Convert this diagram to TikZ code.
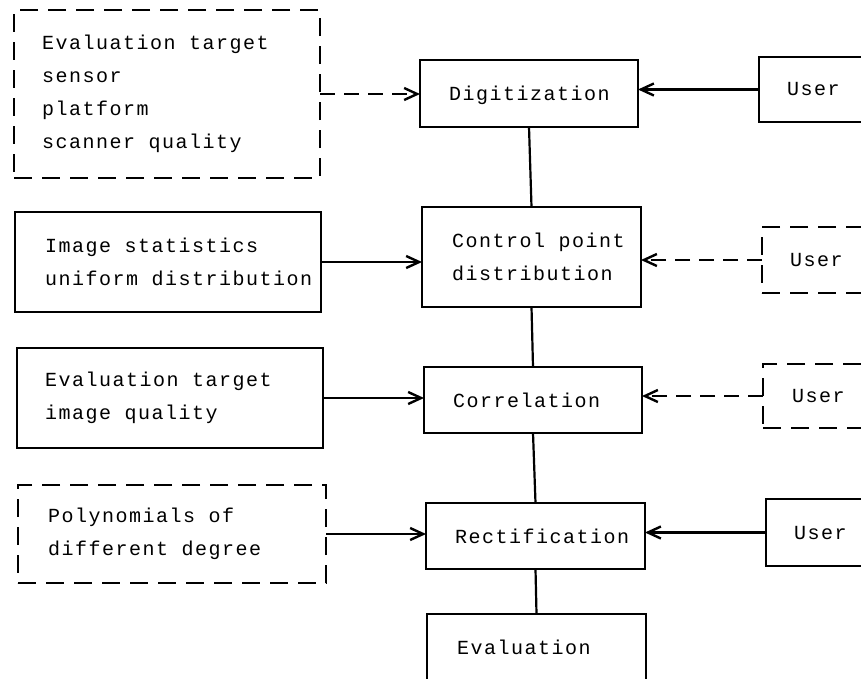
\documentclass[tikz,border=0pt]{standalone}
\usepackage{fontspec}
\setmonofont{Liberation Mono}[LetterSpace=7.5]
\usetikzlibrary{arrows.meta,fit}
\begin{document}
\begin{tikzpicture}[x=1pt, y=-1pt,
  blk/.style={draw, line width=2pt, inner sep=0pt, outer sep=0pt},
  dsh/.style={blk, dash pattern=on 18pt off 10pt},
  txt/.style={font=\ttfamily\fontsize{20}{33}\selectfont, align=left,
              inner sep=0pt, anchor=west},
  flow/.style={line width=2.2pt,
               -{Straight Barb[length=13pt,width=12pt,line width=2.4pt]}},
  dflow/.style={flow, dash pattern=on 15pt off 9pt},
  link/.style={line width=2.2pt}]
\useasboundingbox (0,0) rectangle (861,678);
\clip (0,0) rectangle (861,678);

% left column: inputs
\node[dsh, fit={(14,10) (320,178)}] (src1) {};
\node[blk, fit={(15,212) (321,312)}] (src2) {};
\node[blk, fit={(17,348) (323,448)}] (src3) {};
\node[dsh, fit={(18,485) (326,583)}] (src4) {};

\node[txt] (src1t) at ([xshift=28pt]src1.west)
  {Evaluation target\\sensor\\platform\\scanner quality};
\node[txt] (src2t) at ([xshift=30pt]src2.west)
  {Image statistics\\uniform distribution};
\node[txt] (src3t) at ([xshift=28pt]src3.west)
  {Evaluation target\\image quality};
\node[txt] (src4t) at ([xshift=30pt]src4.west)
  {Polynomials of\\different degree};

% middle column: processing chain
\node[blk, fit={(420,60) (638,127)}] (dig) {};
\node[blk, fit={(422,207) (641,307)}] (cpd) {};
\node[blk, fit={(424,367) (642,433)}] (cor) {};
\node[blk, fit={(426,503) (645,569)}] (rect) {};
\node[blk, fit={(427,614) (646,680)}] (eval) {};

\node[txt] (digt) at ([xshift=29pt,yshift=-2pt]dig.west) {Digitization};
\node[txt] (cpdt) at ([xshift=30pt]cpd.west) {Control point\\distribution};
\node[txt] (cort) at ([xshift=29pt]cor.west) {Correlation};
\node[txt] (rectt) at ([xshift=29pt]rect.west) {Rectification};
\node[txt] (evalt) at ([xshift=30pt]eval.west) {Evaluation};

% right column: user interaction
\node[blk, fit={(759,57) (920,122)}] (usr1) {};
\node[dsh, fit={(762,227) (920,293)}] (usr2) {};
\node[dsh, fit={(763,364) (920,428)}] (usr3) {};
\node[blk, fit={(766,499) (920,566)}] (usr4) {};

\node[txt] (usr1t) at ([xshift=28pt]usr1.west) {User};
\node[txt] (usr2t) at ([xshift=28pt]usr2.west) {User};
\node[txt] (usr3t) at ([xshift=29pt]usr3.west) {User};
\node[txt] (usr4t) at ([xshift=28pt]usr4.west) {User};

% vertical chain
\draw[link] (dig.south) -- (cpd.north);
\draw[link] (cpd.south) -- (cor.north);
\draw[link] (cor.south) -- (rect.north);
\draw[link] (rect.south) -- (eval.north);

% inputs from the left
\draw[dflow] (src1.east) -- (src1.east -| dig.west);
\draw[flow] (src2.east) -- (src2.east -| cpd.west);
\draw[flow] (src3.east) -- (src3.east -| cor.west);
\draw[flow] (src4.east) -- (src4.east -| rect.west);

% inputs from the user
\draw[flow] (usr1.west) -- (usr1.west -| dig.east);
\draw[dflow] (usr2.west) -- (usr2.west -| cpd.east);
\draw[dflow] (usr3.west) -- (usr3.west -| cor.east);
\draw[flow] (usr4.west) -- (usr4.west -| rect.east);
\end{tikzpicture}
\end{document}
